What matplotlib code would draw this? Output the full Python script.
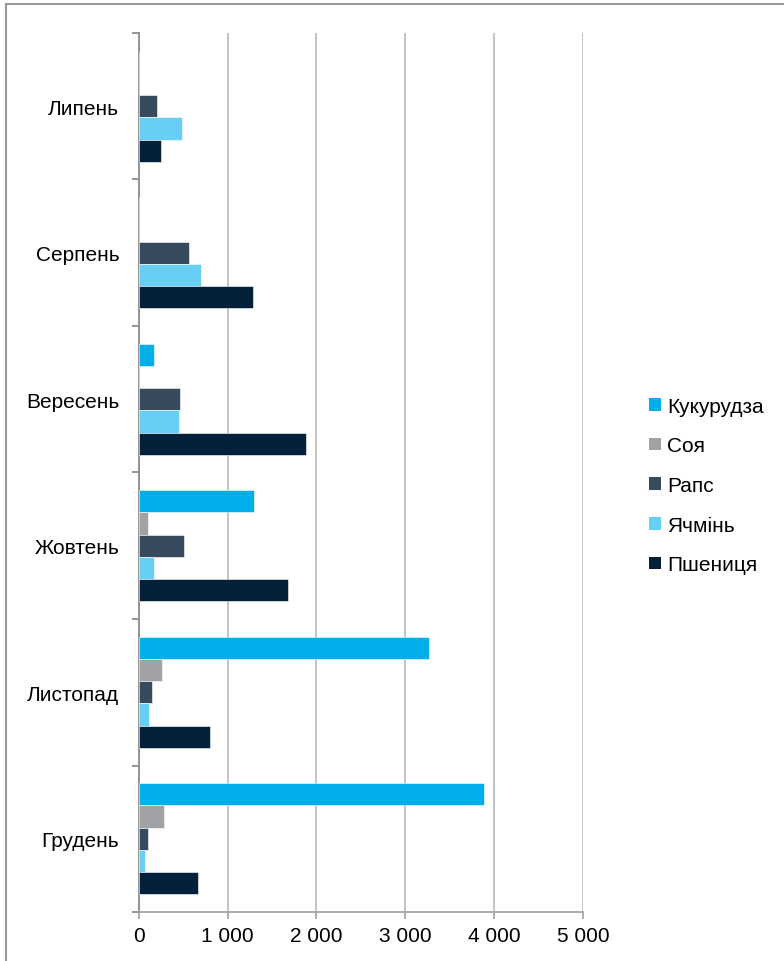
import matplotlib
matplotlib.use("Agg")
import matplotlib.pyplot as plt
from matplotlib.patches import Patch, Rectangle
import numpy as np

plt.rcParams['font.family'] = ['Liberation Sans', 'DejaVu Sans']

months = ["Липень", "Серпень", "Вересень", "Жовтень", "Листопад", "Грудень"]
series_names = ["Кукурудза", "Соя", "Рапс", "Ячмінь", "Пшениця"]
kukurudza = [0, 0, 176, 1302, 3262, 3885]
soya = [0, 0, 0, 101, 266, 289]
raps = [210, 570, 469, 514, 146, 105]
yachmin = [488, 705, 457, 176, 113, 75]
pshenytsia = [248, 1284, 1880, 1678, 800, 664]
colors = ["#00AEEA", "#A0A2A5", "#374A5E", "#66CFF3", "#03213A"]
x_ticks = [0, 1000, 2000, 3000, 4000, 5000]
x_labels = ["0", "1 000", "2 000", "3 000", "4 000", "5 000"]

series = [kukurudza, soya, raps, yachmin, pshenytsia]
FS = 15

fig = plt.figure(figsize=(7.84, 9.62), dpi=100)
ax = fig.add_axes([0.1769, 0.0509, 0.7436 - 0.1769, 0.9647 - 0.0509])

n = len(series)
h = 0.152
centers = np.arange(len(months))
for j, (vals, c) in enumerate(zip(series, colors)):
    offs = (j - (n - 1) / 2) * h
    ax.barh(centers + offs, vals, height=h, color=c, edgecolor="white",
            linewidth=0.4, zorder=3)

ax.set_ylim(len(months) - 0.5, -0.5)
ax.set_xlim(0, 5000)
ax.set_xticks(x_ticks)
ax.set_xticklabels(x_labels, fontsize=FS)
ax.xaxis.grid(True, color="#BEBEBE", linewidth=1.3, zorder=0)
ax.set_yticks(centers)
ax.set_yticklabels(months, fontsize=FS)
ax.tick_params(axis="y", length=0, pad=14)
ax.set_yticks(np.arange(-0.5, len(months)), minor=True)
ax.tick_params(axis="y", which="minor", length=5, color="#8C8C8C", width=1.3)
ax.tick_params(axis="x", length=5, color="#A6A6A6", width=1.3, pad=5)

for s in ["top", "right"]:
    ax.spines[s].set_visible(False)
ax.spines["left"].set_color("#8C8C8C")
ax.spines["left"].set_linewidth(1.3)
ax.spines["bottom"].set_color("#A6A6A6")
ax.spines["bottom"].set_linewidth(1.3)

handles = [Patch(facecolor=c, edgecolor="none") for c in colors]
fig.legend(handles, series_names, loc="center left",
           bbox_to_anchor=(0.815, 0.4943), frameon=False, fontsize=FS,
           handlelength=0.55, handleheight=0.55, handletextpad=0.3,
           labelspacing=0.99, borderpad=0)

# outer frame
fig.patches.append(Rectangle((6 / 784, -0.1), 1.2, 1.1 - 5 / 962,
                             transform=fig.transFigure, fill=False,
                             edgecolor="#999999", linewidth=1.5))

fig.savefig("out.png", dpi=100)
